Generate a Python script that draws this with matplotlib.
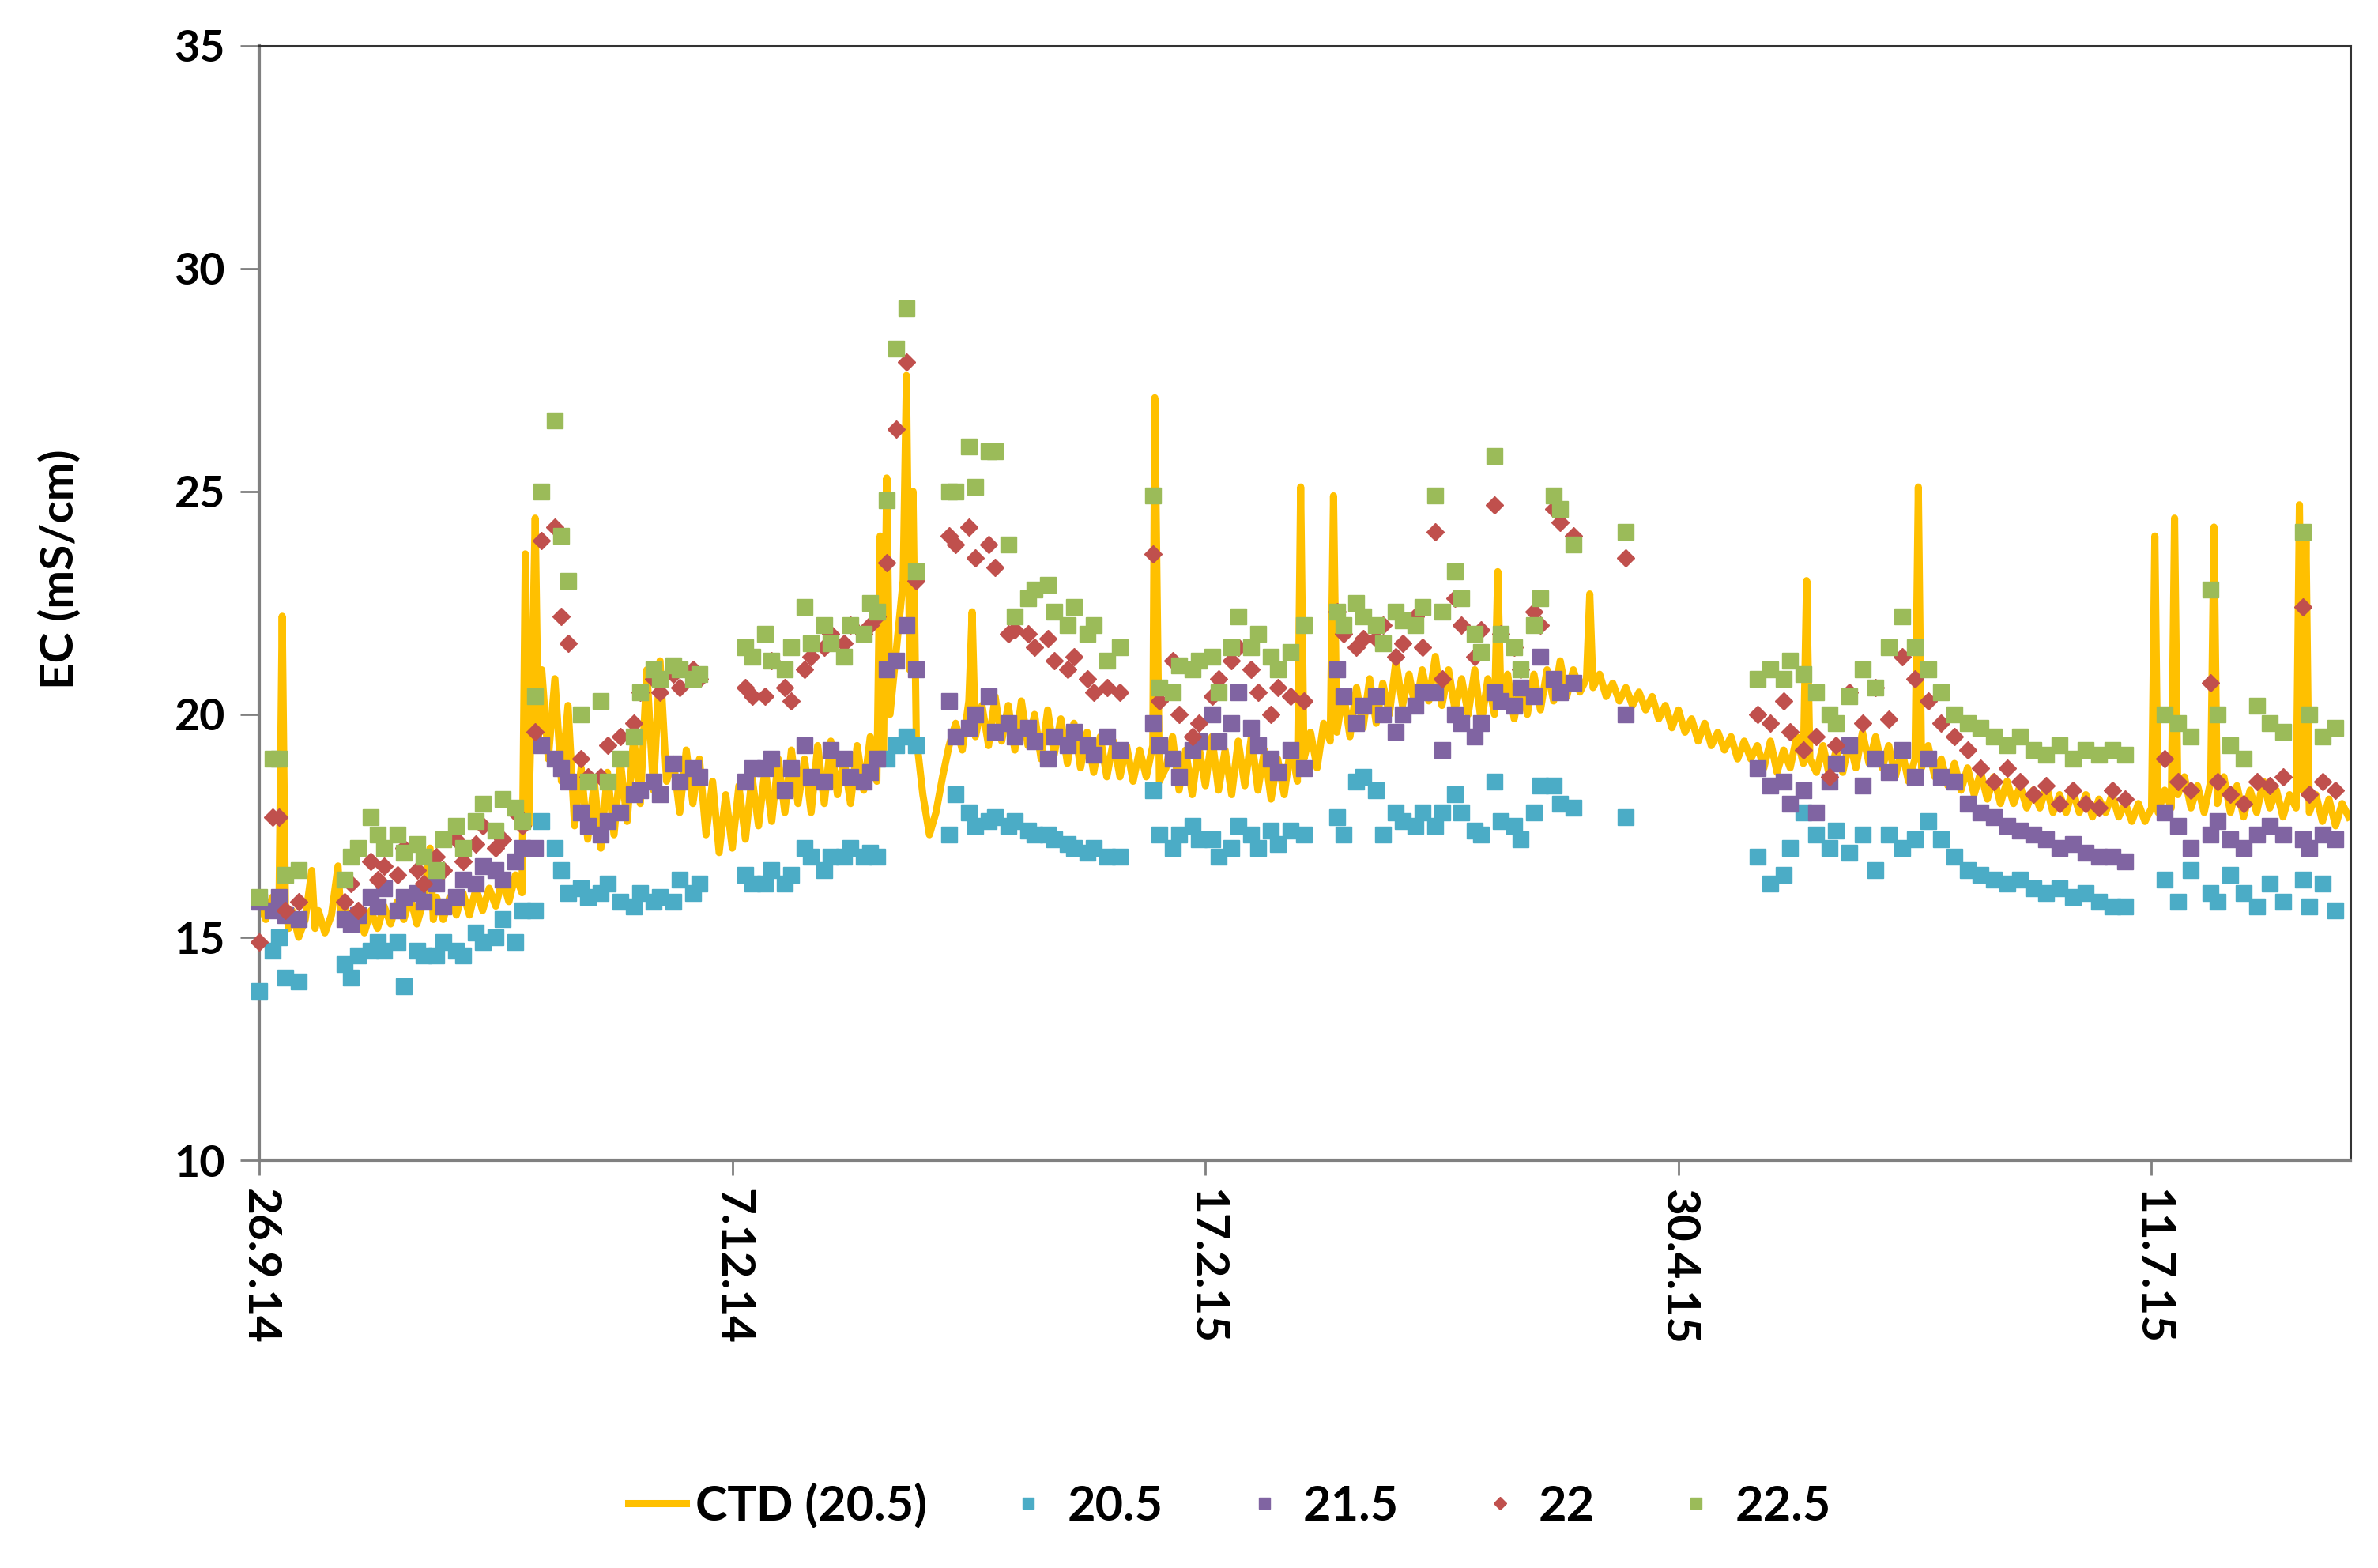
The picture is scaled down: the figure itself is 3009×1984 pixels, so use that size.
import matplotlib
matplotlib.use("Agg")
import matplotlib.pyplot as plt
import numpy as np
import pandas as pd

plt.rcParams['font.family'] = ['Lato', 'DejaVu Sans']

start_date = "2014-09-26"

# ---- CTD (20.5) continuous record: day offset from start, EC value ----
ctd_days = [0, 1, 2, 3, 3.5, 4, 4.5, 5, 6, 7, 8, 8.5, 9, 10, 11, 12, 12.5, 13, 14, 15, 16, 17, 18, 19, 20,
            21, 22, 23, 24, 25, 26, 26.5, 27, 28, 29, 30, 31, 32, 33, 34, 35, 36, 37, 38, 39, 40, 40.5, 41,
            41.5, 42, 42.5, 43, 44, 45, 46, 47, 48, 49, 50, 51, 52, 53, 54, 55, 56, 57, 58, 59, 60, 61, 62,
            63, 64, 65, 66, 67, 68, 69, 70, 71, 72, 73, 74, 75, 76, 77, 78, 79, 80, 81, 82, 83, 84, 85, 86,
            87, 88, 89, 90, 91, 92, 93, 94, 94.5, 95, 95.5, 96, 97, 98, 98.5, 99, 99.5, 100, 101, 102, 103,
            104, 105, 106, 107, 108, 108.5, 109, 110, 111, 112, 113, 114, 115, 116, 117, 118, 119, 120, 121,
            122, 123, 124, 125, 126, 127, 128, 129, 130, 131, 132, 133, 134, 135, 136, 136.3, 137, 138, 139,
            140, 141, 142, 143, 144, 145, 146, 147, 148, 149, 150, 151, 152, 153, 154, 155, 156, 157, 158,
            158.5, 159, 160, 161, 162, 163, 163.5, 164, 165, 166, 167, 168, 169, 170, 171, 172, 173, 174,
            175, 176, 177, 178, 179, 180, 181, 182, 183, 184, 185, 186, 187, 188, 188.5, 189, 190, 191, 192,
            193, 194, 195, 196, 197, 198, 199, 200, 201, 202, 202.5, 203, 204, 205, 206, 207, 208, 209, 210,
            211, 212, 213, 214, 215, 216, 217, 218, 219, 220, 221, 222, 223, 224, 225, 226, 227, 228, 229,
            230, 231, 232, 233, 234, 235, 235.5, 236, 237, 238, 239, 240, 241, 242, 243, 244, 245, 246, 247,
            248, 249, 250, 251, 252, 252.5, 253, 254, 255, 256, 257, 258, 259, 260, 261, 262, 263, 264, 265,
            266, 267, 268, 269, 270, 271, 272, 273, 274, 275, 276, 277, 278, 279, 280, 281, 282, 283, 284,
            285, 286, 287, 288, 288.5, 289, 290, 291, 291.5, 292, 293, 294, 295, 296, 297, 297.5, 298, 299,
            300, 301, 302, 303, 304, 305, 306, 307, 308, 309, 310, 310.5, 311, 311.5, 312, 313, 314, 315,
            316, 317, 318]
ctd_values = [15.8, 15.4, 15.9, 15.5, 22.2, 15.6, 15.2, 15.6, 15.0, 15.4, 16.5, 15.2, 15.6, 15.1, 15.5, 16.6,
              15.3, 15.7, 15.2, 15.6, 15.1, 15.6, 15.2, 15.7, 15.3, 15.8, 15.4, 15.9, 15.3, 15.8, 17.0, 15.4,
              15.9, 15.4, 15.9, 15.5, 16.0, 15.5, 16.1, 15.6, 16.1, 15.7, 16.3, 15.8, 16.4, 16.0, 23.6, 17.5,
              20.5, 24.4, 19.5, 21.0, 19.0, 20.8, 18.5, 20.2, 17.5, 18.8, 17.2, 18.5, 17.0, 18.7, 17.3, 18.9,
              17.6, 19.5, 18.0, 21.0, 18.3, 21.2, 18.5, 19.0, 17.8, 19.2, 18.0, 19.0, 17.3, 18.5, 16.9, 18.2,
              17.0, 18.4, 17.2, 18.6, 17.5, 18.8, 17.6, 19.0, 17.8, 19.2, 18.0, 19.0, 17.8, 19.3, 18.0, 19.4,
              18.2, 19.0, 18.0, 19.3, 18.3, 19.5, 18.5, 24.0, 19.0, 25.3, 20.0, 21.5, 23.0, 27.6, 21.0, 25.0,
              19.5, 18.2, 17.3, 17.8, 18.6, 19.3, 19.8, 19.2, 20.3, 22.3, 19.5, 20.2, 19.3, 20.4, 19.4, 20.2,
              19.2, 20.3, 19.3, 20.0, 19.0, 20.1, 19.1, 19.9, 18.9, 19.8, 18.8, 19.6, 18.7, 19.5, 18.6, 19.4,
              18.6, 19.3, 18.5, 19.2, 18.6, 19.3, 27.1, 18.5, 18.8, 19.5, 18.3, 19.2, 18.2, 19.3, 18.4, 19.5,
              18.3, 19.2, 18.2, 19.4, 18.4, 19.5, 18.3, 19.2, 18.1, 19.0, 18.2, 19.3, 18.5, 25.1, 19.0, 19.6,
              18.8, 19.8, 19.4, 24.9, 19.6, 20.5, 19.5, 20.6, 19.7, 20.8, 19.8, 20.7, 20.0, 21.2, 20.2, 20.9,
              20.1, 21.0, 20.3, 21.3, 20.2, 21.0, 20.1, 20.8, 20.0, 21.0, 19.8, 20.8, 20.0, 23.2, 20.2, 20.9,
              19.9, 20.7, 20.0, 20.9, 20.1, 21.0, 20.3, 21.2, 20.4, 21.0, 20.5, 20.8, 22.7, 20.6, 20.9, 20.4,
              20.7, 20.3, 20.6, 20.2, 20.5, 20.1, 20.4, 19.9, 20.2, 19.7, 20.1, 19.6, 19.9, 19.4, 19.8, 19.3,
              19.6, 19.2, 19.5, 19.0, 19.4, 19.0, 19.3, 18.8, 19.4, 18.7, 19.2, 18.8, 19.5, 18.9, 23.0, 19.0,
              18.7, 19.3, 18.6, 19.2, 18.7, 19.4, 18.8, 19.6, 18.9, 19.5, 18.8, 19.3, 18.6, 19.2, 18.5, 19.0,
              25.1, 18.8, 19.3, 18.6, 19.0, 18.4, 18.9, 18.3, 18.8, 18.2, 18.7, 18.1, 18.6, 18.0, 18.5, 18.0,
              18.4, 17.9, 18.3, 17.9, 18.4, 17.8, 18.2, 17.8, 18.3, 17.8, 18.2, 17.7, 18.1, 17.8, 18.2, 17.7,
              18.0, 17.6, 18.0, 17.6, 17.9, 24.0, 17.8, 18.3, 17.9, 24.4, 18.2, 18.6, 17.9, 18.4, 17.8, 18.5,
              24.2, 18.0, 18.6, 17.8, 18.4, 17.7, 18.3, 17.8, 18.5, 17.9, 18.3, 17.7, 18.2, 17.9, 24.7, 18.3,
              24.0, 17.8, 18.2, 17.6, 18.1, 17.5, 18.0, 17.7]

# ---- sampled depths: common sampling days ----
sample_days = [0, 2, 3, 4, 6,
               13, 14, 15, 17, 18, 19, 21, 22, 24, 25, 27, 28, 30, 31, 33, 34, 36, 37, 39, 40,
               42, 43, 45, 46, 47, 49, 50, 52, 53, 55, 57, 58, 60, 61, 63, 64, 66, 67,
               74, 75, 77, 78, 80, 81, 83, 84, 86, 87, 89, 90, 92, 93, 94,
               95.5, 97, 98.5, 100,
               105, 106, 108, 109, 111, 112, 114, 115, 117, 118, 120, 121, 123, 124, 126, 127, 129, 131,
               136, 137, 139, 140, 142, 143, 145, 146, 148, 149, 151, 152, 154, 155, 157, 159,
               164, 165, 167, 168, 170, 171, 173, 174, 176, 177, 179, 180, 182, 183, 185, 186, 188, 189,
               191, 192, 194, 195, 197, 198, 200, 208,
               228, 230, 232, 233, 235, 237, 239, 240, 242, 244, 246, 248, 250, 252, 254, 256, 258, 260,
               262, 264, 266, 268, 270, 272, 274, 276, 278, 280, 282, 284,
               290, 292, 294, 297, 298, 300, 302, 304, 306, 308, 311, 312, 314, 316]

ec_20_5 = [13.8, 14.7, 15.0, 14.1, 14.0,
           14.4, 14.1, 14.6, 14.7, 14.9, 14.7, 14.9, 13.9, 14.7, 14.6, 14.6, 14.9, 14.7, 14.6, 15.1, 14.9, 15.0, 15.4, 14.9, 15.6,
           15.6, 17.6, 17.0, 16.5, 16.0, 16.1, 15.9, 16.0, 16.2, 15.8, 15.7, 16.0, 15.8, 15.9, 15.8, 16.3, 16.0, 16.2,
           16.4, 16.2, 16.2, 16.5, 16.2, 16.4, 17.0, 16.8, 16.5, 16.8, 16.8, 17.0, 16.8, 16.9, 16.8,
           19.0, 19.3, 19.5, 19.3,
           17.3, 18.2, 17.8, 17.5, 17.6, 17.7, 17.5, 17.6, 17.4, 17.3, 17.3, 17.2, 17.1, 17.0, 16.9, 17.0, 16.8, 16.8,
           18.3, 17.3, 17.0, 17.3, 17.5, 17.2, 17.2, 16.8, 17.0, 17.5, 17.3, 17.0, 17.4, 17.1, 17.4, 17.3,
           17.7, 17.3, 18.5, 18.6, 18.3, 17.3, 17.8, 17.6, 17.5, 17.8, 17.5, 17.8, 18.2, 17.8, 17.4, 17.3, 18.5, 17.6,
           17.5, 17.2, 17.8, 18.4, 18.4, 18.0, 17.9, 17.7,
           16.8, 16.2, 16.4, 17.0, 17.8, 17.3, 17.0, 17.4, 16.9, 17.3, 16.5, 17.3, 17.0, 17.2, 17.6, 17.2, 16.8, 16.5,
           16.4, 16.3, 16.2, 16.3, 16.1, 16.0, 16.1, 15.9, 16.0, 15.8, 15.7, 15.7,
           16.3, 15.8, 16.5, 16.0, 15.8, 16.4, 16.0, 15.7, 16.2, 15.8, 16.3, 15.7, 16.2, 15.6]

ec_21_5 = [15.8, 15.6, 15.9, 15.5, 15.4,
           15.4, 15.3, 15.5, 15.9, 15.7, 16.1, 15.6, 15.9, 16.0, 15.8, 16.2, 15.7, 15.9, 16.3, 16.2, 16.6, 16.5, 16.3, 16.7, 17.0,
           17.0, 19.3, 19.0, 18.8, 18.5, 17.8, 17.5, 17.3, 17.6, 17.8, 18.2, 18.3, 18.5, 18.2, 18.9, 18.5, 18.8, 18.6,
           18.5, 18.8, 18.8, 19.0, 18.3, 18.8, 19.3, 18.6, 18.5, 19.2, 19.0, 18.6, 18.5, 18.7, 19.0,
           21.0, 21.2, 22.0, 21.0,
           20.3, 19.5, 19.7, 20.0, 20.4, 19.6, 19.8, 19.5, 19.7, 19.4, 19.0, 19.5, 19.3, 19.6, 19.3, 19.1, 19.5, 19.2,
           19.8, 19.3, 19.0, 18.6, 19.2, 19.4, 20.0, 19.4, 19.8, 20.5, 19.7, 19.3, 19.0, 18.7, 19.2, 18.8,
           21.0, 20.4, 19.8, 20.2, 20.4, 20.0, 19.6, 20.0, 20.2, 20.5, 20.5, 19.2, 20.0, 19.8, 19.5, 19.8, 20.5, 20.3,
           20.2, 20.6, 20.4, 21.3, 20.8, 20.5, 20.7, 20.0,
           18.8, 18.4, 18.5, 18.0, 18.3, 17.8, 18.5, 18.9, 19.3, 18.4, 19.0, 18.7, 19.2, 18.6, 19.0, 18.6, 18.5, 18.0,
           17.8, 17.7, 17.5, 17.4, 17.3, 17.2, 17.0, 17.1, 16.9, 16.8, 16.8, 16.7,
           17.8, 17.5, 17.0, 17.3, 17.6, 17.2, 17.0, 17.3, 17.5, 17.3, 17.2, 17.0, 17.3, 17.2]

ec_22 = [14.9, 17.7, 17.7, 15.6, 15.8,
         15.8, 16.2, 15.6, 16.7, 16.3, 16.6, 16.4, 17.0, 16.5, 16.2, 16.8, 16.5, 17.2, 16.7, 17.1, 17.5, 17.0, 17.2, 17.8, 17.5,
         19.6, 23.9, 24.2, 22.2, 21.6, 19.0, 18.6, 18.6, 19.3, 19.5, 19.8, 20.5, 20.8, 20.5, 20.9, 20.6, 21.0, 20.8,
         20.6, 20.4, 20.4, 21.2, 20.6, 20.3, 21.0, 21.3, 21.5, 21.8, 21.6, 22.0, 21.8, 22.0, 22.2,
         23.4, 26.4, 27.9, 23.0,
         24.0, 23.8, 24.2, 23.5, 23.8, 23.3, 21.8, 21.9, 21.8, 21.5, 21.7, 21.2, 21.0, 21.3, 20.8, 20.5, 20.6, 20.5,
         23.6, 20.3, 21.2, 20.0, 19.5, 19.8, 20.4, 20.8, 21.2, 21.5, 21.0, 20.5, 20.0, 20.6, 20.4, 20.3,
         22.3, 21.8, 21.5, 21.7, 21.7, 22.0, 21.3, 21.6, 22.2, 21.5, 24.1, 20.8, 22.6, 22.0, 21.3, 21.9, 24.7, 21.8,
         21.5, 21.0, 22.3, 22.0, 24.6, 24.3, 24.0, 23.5,
         20.0, 19.8, 20.3, 19.6, 19.2, 19.5, 18.6, 19.3, 20.5, 19.8, 20.6, 19.9, 21.3, 20.8, 20.3, 19.8, 19.5, 19.2,
         18.8, 18.5, 18.8, 18.5, 18.2, 18.4, 18.0, 18.3, 18.0, 17.9, 18.3, 18.1,
         19.0, 18.5, 18.3, 20.7, 18.5, 18.2, 18.0, 18.5, 18.4, 18.6, 22.4, 18.2, 18.5, 18.3]

ec_22_5 = [15.9, 19.0, 19.0, 16.4, 16.5,
           16.3, 16.8, 17.0, 17.7, 17.3, 17.0, 17.3, 16.9, 17.1, 16.8, 16.5, 17.2, 17.5, 17.0, 17.6, 18.0, 17.4, 18.1, 17.9, 17.6,
           20.4, 25.0, 26.6, 24.0, 23.0, 20.0, 18.5, 20.3, 18.5, 19.0, 19.5, 20.5, 21.0, 20.8, 21.1, 21.0, 20.8, 20.9,
           21.5, 21.3, 21.8, 21.2, 21.0, 21.5, 22.4, 21.6, 22.0, 21.6, 21.3, 22.0, 21.8, 22.5, 22.3,
           24.8, 28.2, 29.1, 23.2,
           25.0, 25.0, 26.0, 25.1, 25.9, 25.9, 23.8, 22.2, 22.6, 22.8, 22.9, 22.3, 22.0, 22.4, 21.8, 22.0, 21.2, 21.5,
           24.9, 20.6, 20.5, 21.1, 21.0, 21.2, 21.3, 20.5, 21.5, 22.2, 21.5, 21.8, 21.3, 21.0, 21.4, 22.0,
           22.3, 22.0, 22.5, 22.2, 22.0, 21.6, 22.3, 22.1, 22.0, 22.4, 24.9, 22.3, 23.2, 22.6, 21.8, 21.4, 25.8, 21.8,
           21.5, 21.0, 22.0, 22.6, 24.9, 24.6, 23.8, 24.1,
           20.8, 21.0, 20.8, 21.2, 20.9, 20.5, 20.0, 19.8, 20.4, 21.0, 20.6, 21.5, 22.2, 21.5, 21.0, 20.5, 20.0, 19.8,
           19.7, 19.5, 19.3, 19.5, 19.2, 19.1, 19.3, 19.0, 19.2, 19.1, 19.2, 19.1,
           20.0, 19.8, 19.5, 22.8, 20.0, 19.3, 19.0, 20.2, 19.8, 19.6, 24.1, 20.0, 19.5, 19.7]

tick_dates = ["2014-09-26", "2014-12-07", "2015-02-17", "2015-04-30", "2015-07-11"]
tick_labels = ["26.9.14", "7.12.14", "17.2.15", "30.4.15", "11.7.15"]
y_ticks = [10, 15, 20, 25, 30, 35]

t0 = pd.Timestamp(start_date)
ctd_t = t0 + pd.to_timedelta(ctd_days, unit="D")
smp_t = t0 + pd.to_timedelta(sample_days, unit="D")

fig = plt.figure(figsize=(30.09, 19.84), dpi=100)
ax = fig.add_axes([0.109, 0.260, 0.8795, 0.711])

ax.plot(ctd_t, ctd_values, color="#FFC000", lw=6.5, zorder=2, label="CTD (20.5)")
ax.plot(smp_t, ec_20_5, ls="none", marker="s", ms=14, color="#4BACC6", zorder=3, label="20.5", clip_on=False)
ax.plot(smp_t, ec_21_5, ls="none", marker="s", ms=14, color="#8064A2", zorder=3, label="21.5", clip_on=False)
ax.plot(smp_t, ec_22, ls="none", marker="D", ms=11, color="#C0504D", zorder=3, label="22", clip_on=False)
ax.plot(smp_t, ec_22_5, ls="none", marker="s", ms=14, color="#9BBB59", zorder=3, label="22.5", clip_on=False)

ax.set_xlim(t0, t0 + pd.Timedelta(days=318.3))
ax.set_ylim(10, 35)
ax.set_yticks(y_ticks)
ax.set_yticklabels([str(v) for v in y_ticks], fontsize=40, fontweight="bold")
ax.set_xticks(pd.to_datetime(tick_dates))
ax.set_xticklabels(tick_labels, rotation=-90, fontsize=42, fontweight="bold", va="top", ha="center")
ax.tick_params(axis="y", length=17, width=2, color="#808080", pad=14)
ax.tick_params(axis="x", length=14, width=2, color="#808080", pad=12)

for s in ["left", "bottom"]:
    ax.spines[s].set_color("#808080")
    ax.spines[s].set_linewidth(3)
for s in ["top", "right"]:
    ax.spines[s].set_color("#333333")
    ax.spines[s].set_linewidth(2.2)

ax.set_ylabel("EC (mS/cm)", fontsize=42, fontweight="bold")
ax.yaxis.set_label_coords(-0.085, 0.53)

leg = fig.legend(loc="center", bbox_to_anchor=(0.517, 0.04), ncol=5, frameon=False,
                 prop={"size": 44, "weight": "bold"}, handlelength=1.2, handletextpad=0.2,
                 columnspacing=1.5, markerscale=0.75)

fig.savefig("out.png", dpi=100, facecolor="white")
